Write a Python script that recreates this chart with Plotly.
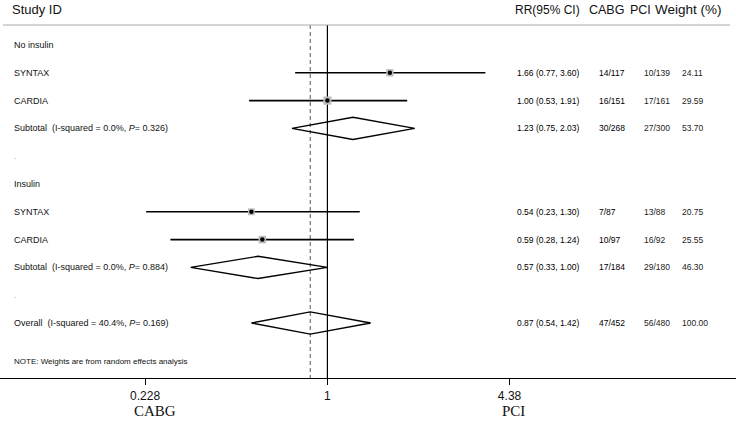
import plotly.graph_objects as go

# ---- data ----
row_labels = ["No insulin", "SYNTAX", "CARDIA",
              "Subtotal  (I-squared = 0.0%, <i>P</i>= 0.326)", ".",
              "Insulin", "SYNTAX", "CARDIA",
              "Subtotal  (I-squared = 0.0%, <i>P</i>= 0.884)", ".",
              "Overall  (I-squared = 40.4%, <i>P</i>= 0.169)"]
row_kind = ["head", "study", "study", "sub", "dot", "head", "study", "study", "sub", "dot", "sub"]
rr = [None, 1.66, 1.00, 1.23, None, None, 0.54, 0.59, 0.57, None, 0.87]
ci_lo = [None, 0.77, 0.53, 0.75, None, None, 0.23, 0.28, 0.33, None, 0.54]
ci_hi = [None, 3.60, 1.91, 2.03, None, None, 1.30, 1.24, 1.00, None, 1.42]
cabg = ["", "14/117", "16/151", "30/268", "", "", "7/87", "10/97", "17/184", "", "47/452"]
pci = ["", "10/139", "17/161", "27/300", "", "", "13/88", "16/92", "29/180", "", "56/480"]
weight = [None, 24.11, 29.59, 53.70, None, None, 20.75, 25.55, 46.30, None, 100.00]
overall_rr = 0.87
tick_vals = [0.228, 1, 4.38]
tick_text = ["0.228", "1", "4.38"]
headers = ["Study ID", "RR(95% CI)", "CABG", "PCI", "Weight (%)"]
note = "NOTE: Weights are from random effects analysis"
side_labels = ["CABG", "PCI"]

W, H = 736, 423
SANS = "Liberation Sans, Arial, sans-serif"
SERIF = "Liberation Serif, Times New Roman, serif"

fig = go.Figure()
rows = list(range(1, len(row_labels) + 1))

# CI lines and study boxes
for i, k in enumerate(row_kind):
    y = rows[i]
    if k == "study":
        fig.add_trace(go.Scatter(x=[ci_lo[i], ci_hi[i]], y=[y, y], mode="lines",
                                 line=dict(color="black", width=1.6), showlegend=False, hoverinfo="skip"))
        fig.add_trace(go.Scatter(x=[rr[i]], y=[y], mode="markers",
                                 marker=dict(symbol="square", size=1.5 * weight[i] ** 0.5, color="#bdbdbd",
                                             line=dict(width=0)), showlegend=False, hoverinfo="skip"))
        fig.add_trace(go.Scatter(x=[rr[i]], y=[y], mode="markers",
                                 marker=dict(symbol="circle", size=4.5, color="black"),
                                 showlegend=False, hoverinfo="skip"))
    elif k == "sub":
        h = 0.4
        fig.add_trace(go.Scatter(x=[ci_lo[i], rr[i], ci_hi[i], rr[i], ci_lo[i]],
                                 y=[y, y - h, y, y + h, y], mode="lines", fill="toself",
                                 fillcolor="rgba(255,255,255,0)",
                                 line=dict(color="black", width=1.4), showlegend=False, hoverinfo="skip"))

y_top_line = 0.281
y_bottom = 12.978
fig.add_shape(type="line", xref="x", yref="y", x0=1, x1=1, y0=y_top_line, y1=y_bottom,
              line=dict(color="black", width=1.2), layer="below")
fig.add_shape(type="line", xref="x", yref="y", x0=overall_rr, x1=overall_rr, y0=y_top_line, y1=y_bottom,
              line=dict(color="#555555", width=1, dash="4px,3px"), layer="below")
fig.add_shape(type="line", xref="paper", yref="y", x0=0.004, x1=0.992, y0=y_top_line, y1=y_top_line,
              line=dict(color="#aaaaaa", width=1))

ann = []
# headers
hx = [10, 513, 587, 628, 653]
hs = [13, 12, 12.5, 12.5, 13.5]
for t, x, s in zip(headers, hx, hs):
    ann.append(dict(text=t, x=x / W, y=-0.26, xref="paper", yref="y", xanchor="left", yanchor="middle",
                    showarrow=False, font=dict(family=SANS, size=s, color="#111")))
# row labels & columns
for i, lab in enumerate(row_labels):
    y = rows[i]
    col = "#aaaaaa" if row_kind[i] == "dot" else "#111"
    ann.append(dict(text=lab, x=12 / W, y=y, xref="paper", yref="y", xanchor="left", yanchor="middle",
                    showarrow=False, font=dict(family=SANS, size=9, color=col)))
    if rr[i] is not None:
        vals = [f"{rr[i]:.2f} ({ci_lo[i]:.2f}, {ci_hi[i]:.2f})", cabg[i], pci[i], f"{weight[i]:.2f}"]
        for v, x, c in zip(vals, [515, 597, 642, 680], ["#000", "#000", "#222", "#222"]):
            ann.append(dict(text=v, x=x / W, y=y, xref="paper", yref="y", xanchor="left", yanchor="middle",
                            showarrow=False, font=dict(family=SANS, size=8.5, color=c)))
ann.append(dict(text=note, x=12 / W, y=12.37, xref="paper", yref="y", xanchor="left", yanchor="middle",
                showarrow=False, font=dict(family=SANS, size=8, color="#111")))
# side labels
for t, x in zip(side_labels, [155, 513]):
    ann.append(dict(text=t, x=x / W, y=-0.087, xref="paper", yref="paper", xanchor="center", yanchor="middle",
                    showarrow=False, font=dict(family=SERIF, size=15, color="#111")))

fig.update_layout(
    width=W, height=H, margin=dict(l=0, r=0, t=0, b=45),
    paper_bgcolor="white", plot_bgcolor="white", annotations=ann,
    xaxis=dict(type="log", range=[-1.153, 1.439], showgrid=False, zeroline=False,
               showline=True, linecolor="black", linewidth=1.2,
               ticks="outside", ticklen=6, tickcolor="black", tickwidth=1,
               tickvals=tick_vals, ticktext=tick_text,
               tickfont=dict(family=SANS, size=12, color="#111")),
    yaxis=dict(range=[y_bottom, -0.619], showgrid=False, zeroline=False, showticklabels=False,
               showline=False),
)
fig.write_html("out.html", config={"displayModeBar": False},
               post_script="document.body.style.margin='0px';")
